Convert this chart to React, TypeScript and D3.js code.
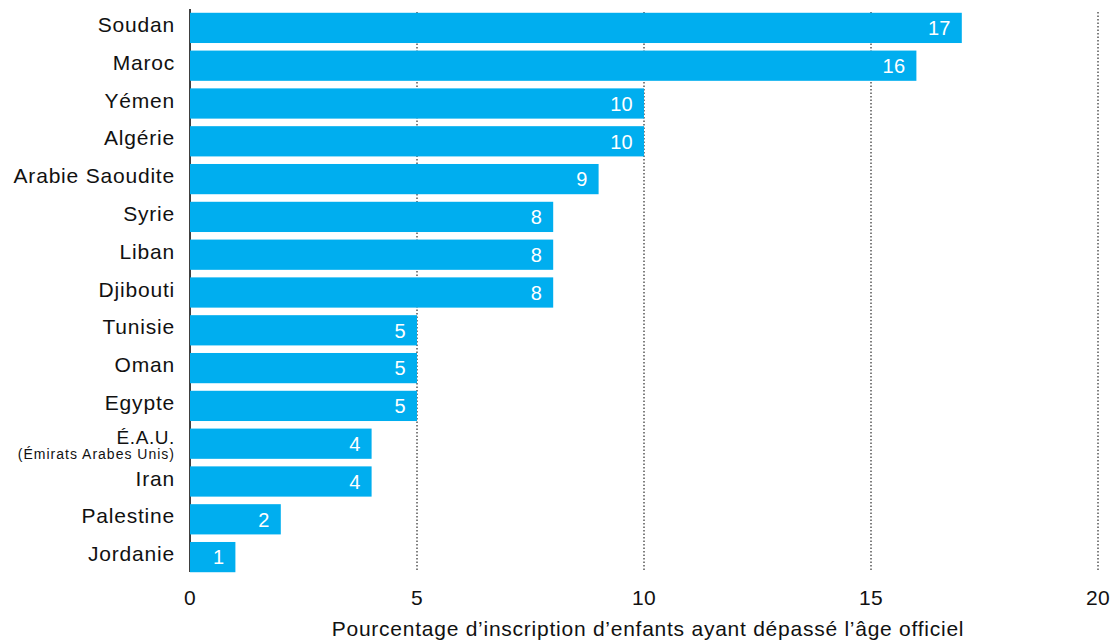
import React from "react";
import * as d3 from "d3";

const countries = ["Soudan","Maroc","Yémen","Algérie","Arabie Saoudite","Syrie","Liban","Djibouti","Tunisie","Oman","Egypte","É.A.U.","Iran","Palestine","Jordanie"];
const values = [17,16,10,10,9,8,8,8,5,5,5,4,4,2,1];
const ticks = [0,5,10,15,20];
const axisTitle = "Pourcentage d\u2019inscription d\u2019enfants ayant dépassé l\u2019âge officiel";
const subLabels: Record<string,string> = { "É.A.U.": "(Émirats Arabes Unis)" };

const W = 1111, H = 641;
const left = 190, right = 1098, top = 9, bottom = 576;
const font = "'Liberation Sans', Arial, sans-serif";

export default function App() {
  const x = d3.scaleLinear().domain([0, 20]).range([left, right]);
  const y = d3.scaleBand<string>().domain(countries).range([top, bottom]).paddingInner(0.2).paddingOuter(0.1);
  return (
    <svg width={W} height={H} style={{ position: "absolute", left: 0, top: 0 }} fontFamily={font}>
      {ticks.filter(t => t > 0).map(t => (
        <line key={t} x1={x(t)} x2={x(t)} y1={12} y2={572} stroke="#000" strokeWidth={1} strokeDasharray="1.5,2" />
      ))}
      <line x1={left} x2={left} y1={top} y2={bottom - 4} stroke="#000" strokeWidth={1.5} />
      {countries.map((c, i) => {
        const yy = y(c)!;
        const bh = y.bandwidth();
        const cy = yy + bh / 2;
        return (
          <g key={c}>
            <rect x={x(0)} y={yy} width={x(values[i]) - x(0)} height={bh} fill="#00AEEF" />
            <text x={x(values[i]) - 11} y={cy} dy="0.36em" textAnchor="end" fill="#fff" fontSize={20} letterSpacing={0.3}>{values[i]}</text>
            {subLabels[c] ? (
              <>
                <text x={175} y={cy} textAnchor="end" fontSize={19} letterSpacing={0.6} fill="#111">{c}</text>
                <text x={175} y={cy + 15.5} textAnchor="end" fontSize={14} letterSpacing={1} fill="#111">{subLabels[c]}</text>
              </>
            ) : (
              <text x={175} y={cy - 3.5} dy="0.36em" textAnchor="end" fontSize={21} letterSpacing={0.8} fill="#111">{c}</text>
            )}
          </g>
        );
      })}
      {ticks.map(t => (
        <text key={t} x={x(t)} y={597} dy="0.36em" textAnchor="middle" fontSize={21} letterSpacing={0.3} fill="#111">{t}</text>
      ))}
      <text x={648} y={636} textAnchor="middle" fontSize={21} letterSpacing={0.75} fill="#111">{axisTitle}</text>
    </svg>
  );
}
